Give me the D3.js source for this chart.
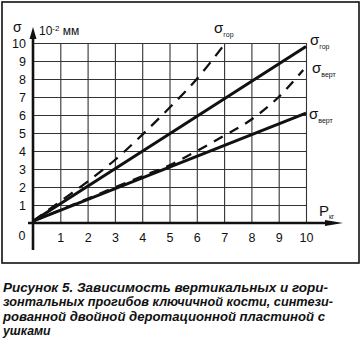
<!DOCTYPE html>
<html>
<head>
<meta charset="utf-8">
<script src="https://cdn.jsdelivr.net/npm/d3@7"></script>
<style>
  html, body { margin: 0; padding: 0; background: #fff; }
  svg { display: block; }
</style>
</head>
<body>
<svg id="chart" width="361" height="340"></svg>
<script>
// Load, kg (axis ticks)
const xTicks = [1, 2, 3, 4, 5, 6, 7, 8, 9, 10];
// Deflection, 10^-2 mm (axis ticks)
const yTicks = [1, 2, 3, 4, 5, 6, 7, 8, 9, 10];

// Horizontal deflection, solid line
const gorSolidLoads = [0, 10];
const gorSolidValues = [0.1, 9.8];
// Horizontal deflection, dashed line
const gorDashedLoads = [0, 1, 2, 3, 4, 5, 6, 7];
const gorDashedValues = [0.1, 1.2, 2.3, 3.5, 4.9, 6.4, 8.0, 9.9];
// Vertical deflection, solid line
const vertSolidLoads = [0, 10];
const vertSolidValues = [0.1, 6.1];
// Vertical deflection, dashed line
const vertDashedLoads = [0, 2, 4, 5, 6, 7, 8, 9, 9.9];
const vertDashedValues = [0.1, 1.35, 2.6, 3.2, 4.0, 4.85, 5.75, 7.0, 8.5];

const captionLines = [
  "Рисунок 5. Зависимость вертикальных и гори-",
  "зонтальных прогибов ключичной кости, синтези-",
  "рованной двойной деротационной пластиной с",
  "ушками"
];

const svg = d3.select("#chart");
const FONT = "'Liberation Sans', Arial, sans-serif";

const x = d3.scaleLinear().domain([0, 10]).range([33, 306]);
const y = d3.scaleLinear().domain([0, 10]).range([223, 43]);

// frame
svg.append("rect")
  .attr("x", 2).attr("y", 2).attr("width", 357).attr("height", 261)
  .attr("fill", "none").attr("stroke", "#111").attr("stroke-width", 1.6);

// grid + tick labels via axes
const yAxis = d3.axisLeft(y).tickValues(yTicks)
  .tickSize(-(x(10) - x(0))).tickPadding(7).tickFormat(d3.format("d"));
const gy = svg.append("g").attr("transform", `translate(${x(0)},0)`).call(yAxis);
gy.select(".domain").remove();
gy.selectAll(".tick line").attr("stroke", "#333").attr("stroke-width", 1.1);
gy.selectAll(".tick text").attr("font-family", FONT).attr("font-size", 12.5)
  .attr("fill", "#111").attr("dy", "0.36em");

const xAxis = d3.axisBottom(x).tickValues(xTicks)
  .tickSize(-(y(0) - y(10))).tickPadding(10.5).tickFormat(d3.format("d"));
const gx = svg.append("g").attr("transform", `translate(0,${y(0)})`).call(xAxis);
gx.select(".domain").remove();
gx.selectAll(".tick line").attr("stroke", "#333").attr("stroke-width", 1.1);
gx.selectAll(".tick text").attr("font-family", FONT).attr("font-size", 12.5)
  .attr("fill", "#111");

// origin label
svg.append("text").attr("x", 22).attr("y", 240).attr("text-anchor", "middle")
  .attr("font-family", FONT).attr("font-size", 12.5).attr("fill", "#111").text("0");

// main axes with arrows
svg.append("line").attr("x1", x(0)).attr("y1", 250).attr("x2", x(0)).attr("y2", 36)
  .attr("stroke", "#111").attr("stroke-width", 2.6);
svg.append("path")
  .attr("d", `M${x(0)},27 L${x(0) - 3.5},39 L${x(0) + 3.5},39 Z`).attr("fill", "#111");
svg.append("line").attr("x1", 28).attr("y1", y(0)).attr("x2", 330).attr("y2", y(0))
  .attr("stroke", "#111").attr("stroke-width", 2.6);
svg.append("path")
  .attr("d", `M343,${y(0)} L325,${y(0) - 3} L325,${y(0) + 3} Z`).attr("fill", "#111");

// axis titles
svg.append("text").attr("x", 13).attr("y", 32)
  .attr("font-family", FONT).attr("font-size", 14).attr("fill", "#111").text("σ");
const unit = svg.append("text").attr("x", 39).attr("y", 35)
  .attr("font-family", FONT).attr("font-size", 12).attr("fill", "#111");
unit.append("tspan").text("10");
unit.append("tspan").attr("dy", -4).attr("font-size", 8).text("-2");
unit.append("tspan").attr("dy", 4).text(" мм");

const pLab = svg.append("text").attr("x", 319).attr("y", 216)
  .attr("font-family", FONT).attr("font-size", 15).attr("fill", "#111");
pLab.append("tspan").text("P");
pLab.append("tspan").attr("dy", 3).attr("font-size", 6.5).text("кг");

// deflection curves
const toPts = (xs, vs) => xs.map((d, i) => [d, vs[i]]);
const lineGen = d3.line().x(d => x(d[0])).y(d => y(d[1]));
const curveGen = d3.line().x(d => x(d[0])).y(d => y(d[1])).curve(d3.curveMonotoneX);

svg.append("path").datum(toPts(gorSolidLoads, gorSolidValues))
  .attr("d", lineGen).attr("fill", "none").attr("stroke", "#111").attr("stroke-width", 3);
svg.append("path").datum(toPts(vertSolidLoads, vertSolidValues))
  .attr("d", lineGen).attr("fill", "none").attr("stroke", "#111").attr("stroke-width", 3);
svg.append("path").datum(toPts(gorDashedLoads, gorDashedValues))
  .attr("d", curveGen).attr("fill", "none").attr("stroke", "#111")
  .attr("stroke-width", 2.3).attr("stroke-dasharray", "11,8");
svg.append("path").datum(toPts(vertDashedLoads, vertDashedValues))
  .attr("d", curveGen).attr("fill", "none").attr("stroke", "#111")
  .attr("stroke-width", 2.3).attr("stroke-dasharray", "10,8");

// curve labels
function sigmaLabel(px, py, sub) {
  const t = svg.append("text").attr("x", px).attr("y", py)
    .attr("font-family", FONT).attr("font-size", 15).attr("fill", "#111");
  t.append("tspan").text("σ");
  t.append("tspan").attr("dy", 4).attr("font-size", 7).text(sub);
}
const gdEnd = gorDashedLoads.length - 1;
sigmaLabel(x(gorDashedLoads[gdEnd]) - 10, y(gorDashedValues[gdEnd]) - 12, "гор");
sigmaLabel(x(10) + 4, y(gorSolidValues[1]) - 2, "гор");
const vdEnd = vertDashedLoads.length - 1;
sigmaLabel(x(10) + 6, y(vertDashedValues[vdEnd]) + 3, "верт");
sigmaLabel(x(10) + 3, y(vertSolidValues[1]) + 6, "верт");

// caption
const capWidths = [325, 330, 322, null];
captionLines.forEach((s, i) => {
  const t = svg.append("text").attr("x", 3).attr("y", 292 + i * 14.3)
    .attr("font-family", FONT).attr("font-size", 12.3)
    .attr("font-weight", "bold").attr("font-style", "italic").attr("fill", "#111")
    .text(s);
  if (capWidths[i]) t.attr("textLength", capWidths[i]).attr("lengthAdjust", "spacingAndGlyphs");
});
</script>
</body>
</html>
